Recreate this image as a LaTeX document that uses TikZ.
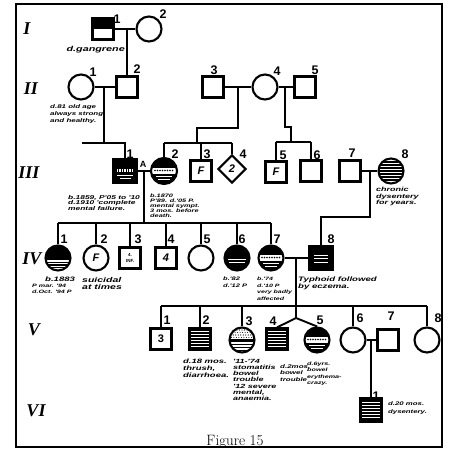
\documentclass[tikz,border=0pt]{standalone}
\usepackage{fontspec}
\newfontfamily\numfont{Liberation Sans}
\newfontfamily\handfam[FakeStretch=1.5]{Liberation Sans}
\newfontfamily\genfam{Liberation Serif}
\usetikzlibrary{shapes.geometric}
\tikzset{
  conn/.style={line width=1.9pt},
  sq/.style={draw, line width=2.2pt, rectangle, minimum size=21pt, inner sep=0pt},
  ci/.style={draw, line width=2.1pt, circle, minimum size=25pt, inner sep=0pt},
  di/.style={draw, line width=2.1pt, diamond, minimum size=28pt, inner sep=0pt},
  num/.style={font=\numfont\bfseries\fontsize{12.5}{12.5}\selectfont, inner sep=0pt},
  gen/.style={font=\genfam\bfseries\itshape\fontsize{18}{18}\selectfont, inner sep=0pt},
  inl/.style={font=\numfont\bfseries\itshape\fontsize{11}{11}\selectfont},
  note/.style 2 args={font=\handfam\bfseries\itshape\fontsize{#1}{#2}\selectfont, align=left, inner sep=0pt, anchor=north west},
  tophalf/.style={path picture={\fill (path picture bounding box.north west) rectangle (path picture bounding box.east);}},
  hstripes/.style={path picture={\path (path picture bounding box.center) coordinate (P);
     \foreach \k in {-9,-6,...,9} \draw[line width=#1] ([shift={(-15,\k)}]P) -- ([shift={(15,\k)}]P);}},
  hstripes/.default=1.5pt,
  dotband/.style={path picture={\path (path picture bounding box.center) coordinate (P);
     \fill ([shift={(-15,-15)}]P) rectangle ([shift={(15,15)}]P);
     \fill[white] ([shift={(-15,-3.5)}]P) rectangle ([shift={(15,2.5)}]P);
     \foreach \k in {-9,-6.5,...,9} \fill ([shift={(\k,-0.5)}]P) circle (0.8pt);
     \draw[white, line width=0.7pt] ([shift={(-8,5.5)}]P) -- ([shift={(8,5.5)}]P);
     \draw[white, line width=0.6pt] ([shift={(-6,8.5)}]P) -- ([shift={(6,8.5)}]P);}},
  sqdots/.style={path picture={\path (path picture bounding box.center) coordinate (P);
     \fill ([shift={(-15,-15)}]P) rectangle ([shift={(15,15)}]P);
     \foreach \k in {-7.5,-5,...,7.5} \fill[white] ([shift={(\k-0.7,-2)}]P) rectangle ([shift={(\k+0.7,1)}]P);
     \draw[white, line width=0.8pt] ([shift={(-8,4.5)}]P) -- ([shift={(8,4.5)}]P);
     \draw[white, line width=0.5pt] ([shift={(-5,7)}]P) -- ([shift={(6,7)}]P);}},
  ivone/.style={path picture={\path (path picture bounding box.center) coordinate (P);
     \fill ([shift={(-15,-15)}]P) rectangle ([shift={(15,1.5)}]P);
     \foreach \k in {4.2,7,9.8} \draw[line width=1.1pt] ([shift={(-15,\k)}]P) -- ([shift={(15,\k)}]P);}},
  ivsix/.style={path picture={\path (path picture bounding box.center) coordinate (P);
     \fill ([shift={(-15,-15)}]P) rectangle ([shift={(15,15)}]P);
     \draw[white, line width=0.6pt] ([shift={(-9,1)}]P) -- ([shift={(9,1)}]P);
     \draw[white, line width=0.6pt] ([shift={(-8,4.5)}]P) -- ([shift={(8,4.5)}]P);}},
  iveight/.style={path picture={\path (path picture bounding box.center) coordinate (P);
     \fill ([shift={(-15,-15)}]P) rectangle ([shift={(15,15)}]P);
     \foreach \k in {-3,0.5,4} \draw[white, line width=0.7pt] ([shift={(-7,\k)}]P) -- ([shift={(7,\k)}]P);}},
  vthree/.style={path picture={\path (path picture bounding box.center) coordinate (P);
     \foreach \i in {-10,-7.5,...,10} \foreach \j in {-10,-7.5,-5,-2.5} \fill ([shift={(\i+\j*0.25,\j)}]P) circle (0.6pt);
     \fill ([shift={(-15,-0.8)}]P) rectangle ([shift={(15,1.6)}]P);
     \foreach \k in {4.5,7.5,10.5} \draw[line width=1.3pt] ([shift={(-15,\k)}]P) -- ([shift={(15,\k)}]P);}},
}
\begin{document}
\begin{tikzpicture}[x=1pt,y=-1pt]
\useasboundingbox (0,0) rectangle (448,449);
\draw[line width=2.2pt] (16,4) rectangle (442,447);
% generation labels
\node[gen] (gI) at (27,29) {I};
\node[gen] (gII) at (31,89) {II};
\node[gen] (gIII) at (29,173) {III};
\node[gen] (gIV) at (32,259) {IV};
\node[gen] (gV) at (34,330) {V};
\node[gen] (gVI) at (36,411) {VI};
% generation I
\node[sq, tophalf] (I1) at (103,29) {};
\node[ci] (I2) at (149,29) {};
\node[num] (lI1) at (117,19) {1};
\node[num] (lI2) at (163,14) {2};
% generation II
\node[ci] (II1) at (81,87) {};
\node[sq] (II2) at (127,87) {};
\node[sq] (II3) at (213,87) {};
\node[ci] (II4) at (265,87) {};
\node[sq] (II5) at (305,87) {};
\node[num] (lII1) at (93,72) {1};
\node[num] (lII2) at (137,69) {2};
\node[num] (lII3) at (214,70) {3};
\node[num] (lII4) at (277,71) {4};
\node[num] (lII5) at (315,70) {5};
% generation III
\node[sq, sqdots, minimum size=23pt] (III1) at (125,171) {};
\node[ci, dotband, minimum size=26pt] (III2) at (164,171) {};
\node[sq, inl] (III3) at (201,171) {F};
\node[di, inl] (III4) at (232,169) {2};
\node[sq, inl] (III5) at (276,172) {F};
\node[sq] (III6) at (311,171) {};
\node[sq] (III7) at (350,171) {};
\node[ci, hstripes] (III8) at (391,171) {};
\node[num] (lIII1) at (130,154) {1};
\node[num, font=\numfont\bfseries\fontsize{9}{9}\selectfont] (lA) at (143,164) {A};
\node[num] (lIII2) at (175,154) {2};
\node[num] (lIII3) at (207,154) {3};
\node[num] (lIII4) at (243,154) {4};
\node[num] (lIII5) at (283,155) {5};
\node[num] (lIII6) at (317,155) {6};
\node[num] (lIII7) at (352,153) {7};
\node[num] (lIII8) at (405,154) {8};
% generation IV
\node[ci, ivone] (IV1) at (58,258) {};
\node[ci, inl] (IV2) at (96,258) {F};
\node[sq, align=center, font=\numfont\bfseries\fontsize{4.5}{5.5}\selectfont] (IV3) at (130,258) {4.\\INF.};
\node[sq, inl] (IV4) at (166,258) {4};
\node[ci] (IV5) at (201,258) {};
\node[ci, ivsix] (IV6) at (237,258) {};
\node[ci, dotband] (IV7) at (271,258) {};
\node[sq, iveight, minimum size=23pt] (IV8) at (321,258) {};
\node[num] (lIV1) at (64,239) {1};
\node[num] (lIV2) at (104,239) {2};
\node[num] (lIV3) at (138,239) {3};
\node[num] (lIV4) at (171,239) {4};
\node[num] (lIV5) at (207,239) {5};
\node[num] (lIV6) at (242,239) {6};
\node[num] (lIV7) at (277,239) {7};
\node[num] (lIV8) at (331,239) {8};
% generation V
\node[sq, font=\numfont\bfseries\fontsize{11}{11}\selectfont] (V1) at (161,339) {3};
\node[sq, hstripes] (V2) at (200,339) {};
\node[ci, vthree] (V3) at (242,340) {};
\node[sq, hstripes=1.8pt] (V4) at (277,339) {};
\node[ci, dotband] (V5) at (317,340) {};
\node[ci] (V6) at (353,340) {};
\node[sq] (V7) at (388,340) {};
\node[ci] (V8) at (427,340) {};
\node[num] (lV1) at (167,320) {1};
\node[num] (lV2) at (206,320) {2};
\node[num] (lV3) at (249,321) {3};
\node[num] (lV4) at (273,321) {4};
\node[num] (lV5) at (320,320) {5};
\node[num] (lV6) at (360,318) {6};
\node[num] (lV7) at (391,316) {7};
\node[num] (lV8) at (438,318) {8};
% generation VI
\node[sq, hstripes, minimum width=21pt, minimum height=23pt] (VI1) at (371,410) {};
\node[num] (lVI1) at (376,396) {1};
% connectors I
\coordinate (mI) at (127,29);
\draw[conn] (I1) -- (I2);
\draw[conn] (mI) -- (II2);
% connectors II
\draw[conn] (II1) -- (II2);
\draw[conn] (II3) -- (II4);
\draw[conn] (II4) -- (II5);
\coordinate (mII) at (104,87);
\coordinate (jII) at (104,143);
\coordinate (sIIIl) at (82,143);
\coordinate (sIIIr) at (125,143);
\draw[conn] (mII) -- (jII);
\draw[conn] (sIIIl) -- (sIIIr) -- (III1);
\coordinate (mII34) at (238,87);
\coordinate (k1) at (238,128);
\coordinate (k2) at (197,128);
\coordinate (k3) at (197,143);
\draw[conn] (mII34) -- (k1) -- (k2) -- (k3);
\coordinate (s2) at (164,143);
\coordinate (s3) at (201,143);
\coordinate (s4) at (232,143);
\draw[conn] (s2) -- (s4);
\draw[conn] (s2) -- (III2);
\draw[conn] (s3) -- (III3);
\draw[conn] (s4) -- (III4);
\coordinate (mII45) at (285,87);
\coordinate (k4) at (285,127);
\coordinate (k5) at (291,127);
\coordinate (k6) at (291,142);
\draw[conn] (mII45) -- (k4) -- (k5) -- (k6);
\coordinate (s5) at (276,142);
\coordinate (s6) at (311,142);
\draw[conn] (s5) -- (s6);
\draw[conn] (s5) -- (III5);
\draw[conn] (s6) -- (III6);
% connectors III
\draw[conn] (III1) -- (III2);
\coordinate (mIII) at (144,171);
\coordinate (jIII) at (144,223);
\draw[conn] (mIII) -- (jIII);
\coordinate (t1) at (58,223);
\coordinate (t2) at (96,223);
\coordinate (t3) at (130,223);
\coordinate (t4) at (166,223);
\coordinate (t5) at (201,223);
\coordinate (t6) at (237,223);
\coordinate (t7) at (271,223);
\draw[conn] (t1) -- (t7);
\draw[conn] (t1) -- (IV1);
\draw[conn] (t2) -- (IV2);
\draw[conn] (t3) -- (IV3);
\draw[conn] (t4) -- (IV4);
\draw[conn] (t5) -- (IV5);
\draw[conn] (t6) -- (IV6);
\draw[conn] (t7) -- (IV7);
\draw[conn] (III7) -- (III8);
\coordinate (mIII78) at (370,171);
\coordinate (k7) at (370,217);
\coordinate (k8) at (321,217);
\draw[conn] (mIII78) -- (k7) -- (k8) -- (IV8);
% connectors IV
\draw[conn] (IV7) -- (IV8);
\coordinate (mIV) at (296,258);
\coordinate (jIV) at (296,306);
\draw[conn] (mIV) -- (jIV);
\coordinate (u1) at (161,306);
\coordinate (u2) at (200,306);
\coordinate (u3) at (242,306);
\coordinate (u6) at (353,306);
\coordinate (u8) at (427,306);
\coordinate (tw) at (296,318);
\draw[conn] (u1) -- (u8);
\draw[conn] (u1) -- (V1);
\draw[conn] (u2) -- (V2);
\draw[conn] (u3) -- (V3);
\draw[conn] (u6) -- (V6);
\draw[conn] (u8) -- (V8);
\draw[conn] (jIV) -- (tw);
\draw[conn] (tw) -- (V4.north);
\draw[conn] (tw) -- (V5.north);
% connectors V
\draw[conn] (V6) -- (V7);
\coordinate (mV) at (371,340);
\draw[conn] (mV) -- (VI1);
% notes
\node[note={7.2}{7}, anchor=east] (nI1) at (125,50) {d.gangrene};
\node[note={5.3}{7}] (nII1) at (50,104) {d.81 old age\\always strong\\and healthy.};
\node[note={5.6}{5.6}] (nIII1) at (68,195) {b.1859, P'05 to '10\\d.1910 'complete\\mental failure.};
\node[note={4.9}{5}] (nIII2) at (150,194) {b.1870\\P'89. d.'05 P.\\mental sympt.\\3 mos. before\\death.};
\node[note={6}{6.5}] (nIII8) at (376,187) {chronic\\dysentery\\for years.};
\node[note={6.4}{7}] (nIV1a) at (45,277) {b.1883};
\node[note={4.8}{6}] (nIV1b) at (32,284) {P mar. '94\\d.Oct. '94 P};
\node[note={7}{7}] (nIV2) at (82,277) {suicidal\\at times};
\node[note={5}{7}] (nIV6) at (223,277) {b.'82\\d.'12 P};
\node[note={4.7}{6.5}] (nIV7) at (257,277) {b.'74\\d.'10 P\\very badly\\affected};
\node[note={6.4}{7}] (nIV8) at (298,277) {Typhoid followed\\by eczema.};
\node[note={6.3}{7}] (nV2) at (183,359) {d.18 mos.\\thrush,\\diarrhoea.};
\node[note={6}{6.2}] (nV3) at (233,359) {'11-'74\\stomatitis\\bowel\\trouble\\'12 severe\\mental,\\anaemia.};
\node[note={5.3}{6.5}] (nV4) at (280,364) {d.2mos.\\bowel\\trouble};
\node[note={4.8}{6.3}] (nV5) at (307,362) {d.6yrs.\\bowel\\erythema-\\crazy.};
\node[note={5.2}{8}] (nVI1) at (388,402) {d.20 mos.\\dysentery.};
\node[font=\fontsize{15}{15}\selectfont, anchor=base, inner sep=0pt] (fig) at (235,445) {Figure 15};
\end{tikzpicture}
\end{document}
